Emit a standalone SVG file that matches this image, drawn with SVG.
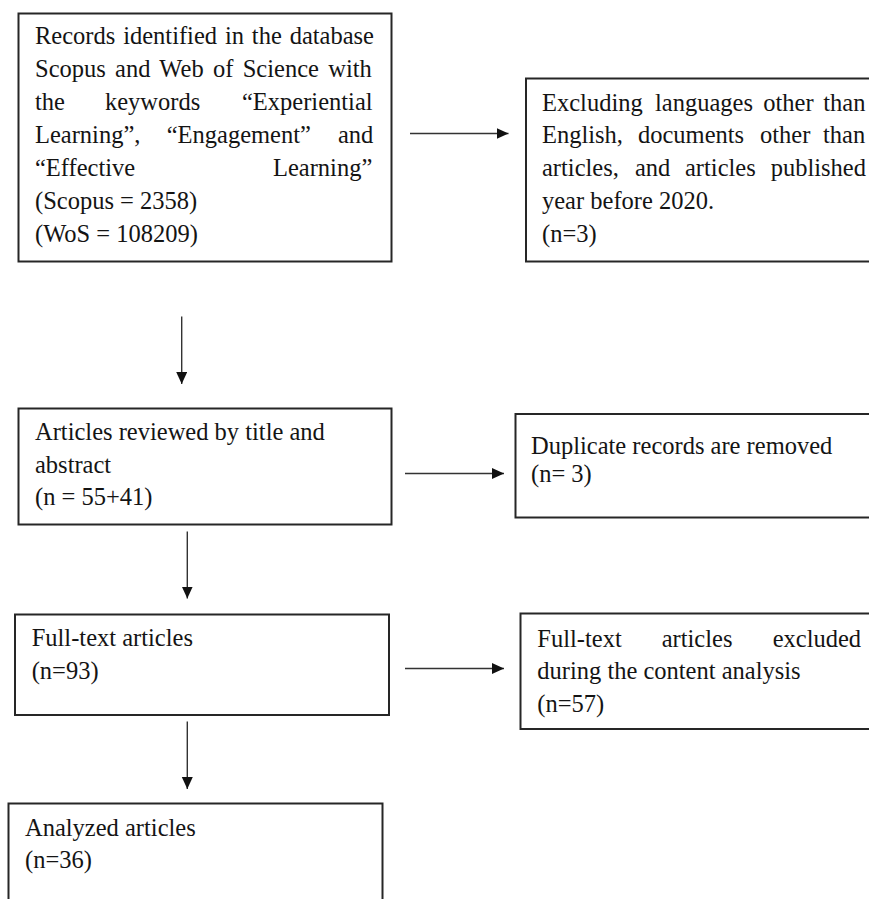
<svg xmlns="http://www.w3.org/2000/svg" width="869" height="899" viewBox="0 0 869 899">
<style>
.box{fill:#fff;stroke:#262626;stroke-width:2}
.t{font-family:"Liberation Serif","Times New Roman",serif;font-size:24.5px;fill:#141414}
.c{stroke:#333;stroke-width:1.4;fill:none;marker-end:url(#ah)}
</style>
<defs>
<marker id="ah" markerUnits="userSpaceOnUse" markerWidth="13" markerHeight="12" refX="12" refY="5.5" orient="auto">
<path d="M0,0 L12,5.5 L0,11 Z" fill="#111"/>
</marker>
</defs>
<rect width="869" height="899" fill="#fff"/>
<g id="connectors">
<line class="c" x1="410" y1="133.5" x2="508.5" y2="133.5"/>
<line class="c" x1="181.7" y1="316.5" x2="181.7" y2="384"/>
<line class="c" x1="405" y1="473.5" x2="504" y2="473.5"/>
<line class="c" x1="187.3" y1="531.5" x2="187.3" y2="598.5"/>
<line class="c" x1="405" y1="668.5" x2="504" y2="668.5"/>
<line class="c" x1="187.3" y1="721.5" x2="187.3" y2="789"/>
</g>
<g id="records">
<rect class="box" x="18.5" y="13.5" width="373" height="248"/>
<text class="t" x="35" y="44" word-spacing="1.75">Records identified in the database</text>
<text class="t" x="35" y="77" word-spacing="3.2">Scopus and Web of Science with</text>
<text class="t" y="110"><tspan x="35">the</tspan><tspan x="105">keywords</tspan><tspan x="242">“Experiential</tspan></text>
<text class="t" y="143"><tspan x="35">Learning”,</tspan><tspan x="166.7">“Engagement”</tspan><tspan x="338">and</tspan></text>
<text class="t" y="176"><tspan x="35">“Effective</tspan><tspan x="273">Learning”</tspan></text>
<text class="t" x="35" y="209">(Scopus = 2358)</text>
<text class="t" x="35" y="242">(WoS = 108209)</text>
</g>
<g id="excluding">
<rect class="box" x="526" y="78.5" width="360" height="183"/>
<text class="t" y="110.7"><tspan x="542">Excluding</tspan><tspan x="655">languages</tspan><tspan x="763.3">other</tspan><tspan x="823.3">than</tspan></text>
<text class="t" y="143.3"><tspan x="542">English,</tspan><tspan x="638">documents</tspan><tspan x="760">other</tspan><tspan x="823">than</tspan></text>
<text class="t" y="176"><tspan x="542">articles,</tspan><tspan x="635">and</tspan><tspan x="685">articles</tspan><tspan x="770.7">published</tspan></text>
<text class="t" x="542" y="208.5">year before 2020.</text>
<text class="t" x="542" y="241.5">(n=3)</text>
</g>
<g id="reviewed">
<rect class="box" x="18.5" y="408.5" width="373" height="116"/>
<text class="t" x="35" y="440">Articles reviewed by title and</text>
<text class="t" x="35" y="472.7">abstract</text>
<text class="t" x="35" y="505">(n = 55+41)</text>
</g>
<g id="duplicates">
<rect class="box" x="515.5" y="414" width="370" height="103.5"/>
<text class="t" x="531" y="453.5">Duplicate records are removed</text>
<text class="t" x="531" y="482">(n= 3)</text>
</g>
<g id="fulltext">
<rect class="box" x="15" y="614.5" width="374" height="100.5"/>
<text class="t" x="31.7" y="646">Full-text articles</text>
<text class="t" x="31.7" y="679">(n=93)</text>
</g>
<g id="fulltext-excluded">
<rect class="box" x="520.5" y="613.5" width="370" height="115.5"/>
<text class="t" y="646.7"><tspan x="537.3">Full-text</tspan><tspan x="661.7">articles</tspan><tspan x="772.7">excluded</tspan></text>
<text class="t" x="537.3" y="679.3">during the content analysis</text>
<text class="t" x="537.3" y="711.7">(n=57)</text>
</g>
<g id="analyzed">
<rect class="box" x="8.5" y="803.5" width="374" height="110"/>
<text class="t" x="25" y="835.7">Analyzed articles</text>
<text class="t" x="25" y="868.3">(n=36)</text>
</g>
</svg>
